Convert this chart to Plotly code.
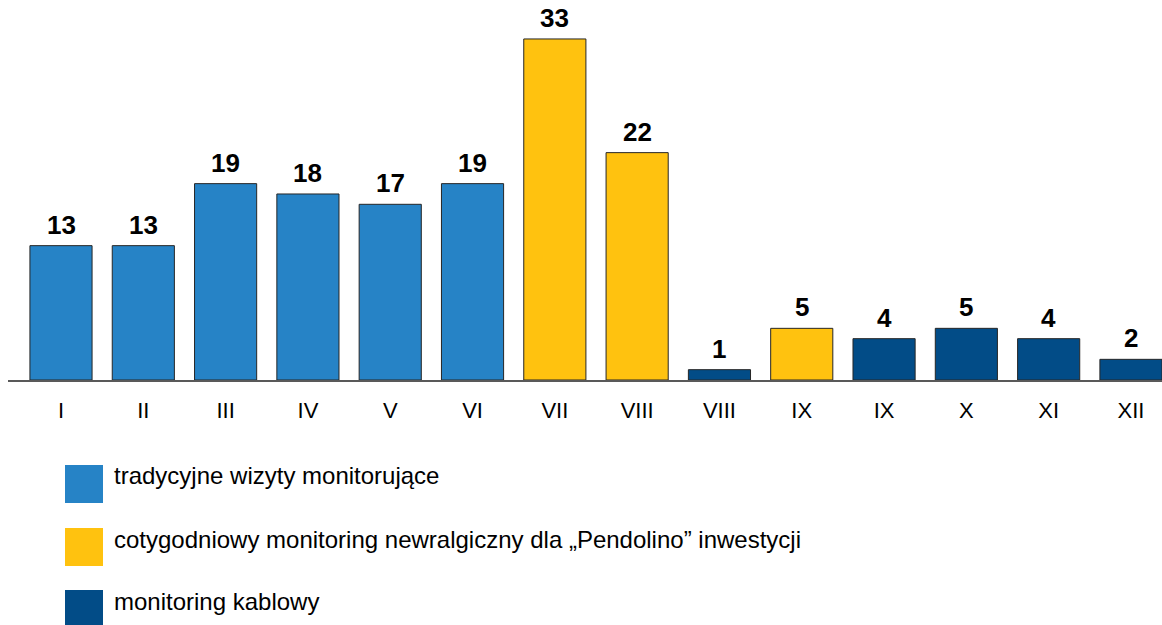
import plotly.graph_objects as go

# Monthly counts, in chart order (VIII and IX appear twice: split by monitoring type)
months = ["I", "II", "III", "IV", "V", "VI", "VII", "VIII", "VIII", "IX", "IX", "X", "XI", "XII"]
values = [13, 13, 19, 18, 17, 19, 33, 22, 1, 5, 4, 5, 4, 2]
series = ["trad", "trad", "trad", "trad", "trad", "trad", "pend", "pend",
          "kabel", "pend", "kabel", "kabel", "kabel", "kabel"]

series_names = {
    "trad": "tradycyjne wizyty monitorujące",
    "pend": "cotygodniowy monitoring newralgiczny dla „Pendolino” inwestycji",
    "kabel": "monitoring kablowy",
}
series_colors = {"trad": "#2683C6", "pend": "#FFC20F", "kabel": "#024C87"}
series_order = ["trad", "pend", "kabel"]

FONT = "Liberation Sans, Arial, sans-serif"

fig = go.Figure()
for key in series_order:
    idx = [i for i, s in enumerate(series) if s == key]
    fig.add_trace(go.Bar(
        x=idx,
        y=[values[i] for i in idx],
        width=0.755,
        marker=dict(color=series_colors[key], line=dict(color="#262626", width=1)),
        name=series_names[key],
        showlegend=False,
    ))

# Value labels above each bar
for i, v in enumerate(values):
    fig.add_annotation(
        x=i, y=v, text=f"<b>{v}</b>", showarrow=False,
        yanchor="bottom", yshift=4,
        font=dict(family=FONT, size=26, color="#000000"),
    )

# Legend below the plot: large colour swatches with captions
# (positions given in pixels, converted to the plot-area domain)
PLOT_LEFT, PLOT_W, PLOT_H = 8, 1154, 380
legend_top = [465, 528, 590]
for key, top in zip(series_order, legend_top):
    fig.add_shape(
        type="rect", xref="x domain", yref="y domain",
        x0=(65 - PLOT_LEFT) / PLOT_W, x1=(103 - PLOT_LEFT) / PLOT_W,
        y0=(PLOT_H - (top + 38)) / PLOT_H, y1=(PLOT_H - top) / PLOT_H,
        fillcolor=series_colors[key], line=dict(width=0),
    )
    fig.add_annotation(
        xref="x domain", yref="y domain",
        x=(112 - PLOT_LEFT) / PLOT_W, y=(PLOT_H - (top + 11)) / PLOT_H,
        text=series_names[key], showarrow=False,
        xanchor="left", yanchor="middle",
        font=dict(family=FONT, size=24, color="#000000"),
    )

fig.update_layout(
    width=1162, height=625,
    margin=dict(l=PLOT_LEFT, r=0, t=0, b=625 - PLOT_H),
    paper_bgcolor="white", plot_bgcolor="white",
    barmode="overlay",
    font=dict(family=FONT, color="#000000"),
)
fig.update_xaxes(
    range=[-0.644, 13.377],
    tickmode="array", tickvals=list(range(len(months))), ticktext=months,
    tickfont=dict(family=FONT, size=22, color="#000000"),
    showline=True, linecolor="#595959", linewidth=2,
    showgrid=False, zeroline=False, ticks="", ticklabelstandoff=10,
)
fig.update_yaxes(
    range=[0, 36.77], visible=False, showgrid=False, zeroline=False,
)

fig.write_html("out.html")
